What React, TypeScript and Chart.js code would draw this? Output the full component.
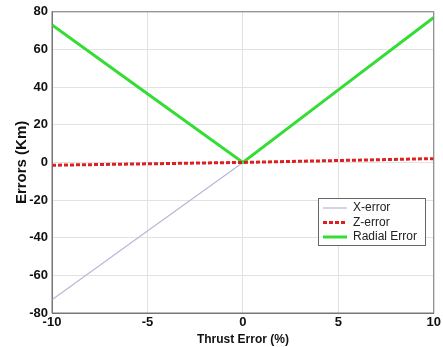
import React, { useEffect, useRef } from "react";
import { Chart, registerables } from "chart.js";

Chart.register(...registerables);

const thrustError = [-10, -5, 0, 5, 10];
const xErrorValues = [-73, -36.5, 0, 38.5, 77];
const zErrorValues = [-1.5, -0.75, 0, 1, 2];
const radialErrorValues = [73, 36.5, 0, 38.5, 77];
const seriesLabels = ["X-error", "Z-error", "Radial Error"];
const xTicks = [-10, -5, 0, 5, 10];
const yTicks = [-80, -60, -40, -20, 0, 20, 40, 60, 80];

const FONT = "'Liberation Sans', Arial, sans-serif";

const legendPlugin = {
  id: "insideLegend",
  afterDraw(chart: any) {
    const ctx = chart.ctx;
    const x0 = 318, y0 = 198, w = 107, h = 47;
    ctx.save();
    ctx.fillStyle = "#ffffff";
    ctx.fillRect(x0, y0, w, h);
    ctx.strokeStyle = "#666666";
    ctx.lineWidth = 1;
    ctx.strokeRect(x0 + 0.5, y0 + 0.5, w, h);
    ctx.font = `12px ${FONT}`;
    ctx.textBaseline = "middle";
    chart.data.datasets.forEach((ds: any, i: number) => {
      const y = y0 + 10 + i * 14.5;
      ctx.beginPath();
      ctx.strokeStyle = ds.borderColor;
      ctx.lineWidth = ds.borderWidth;
      ctx.setLineDash(ds.borderDash || []);
      ctx.moveTo(x0 + 5, y);
      ctx.lineTo(x0 + 29, y);
      ctx.stroke();
      ctx.setLineDash([]);
      ctx.fillStyle = "#222222";
      ctx.fillText(ds.label, x0 + 35, y);
    });
    ctx.restore();
  },
};

export default function App() {
  const ref = useRef<HTMLCanvasElement>(null);
  useEffect(() => {
    document.body.style.margin = "0";
    const toPts = (vals: number[]) => thrustError.map((x, i) => ({ x, y: vals[i] }));
    const chart = new Chart(ref.current!, {
      type: "line",
      data: {
        datasets: [
          {
            label: seriesLabels[0],
            data: toPts(xErrorValues),
            borderColor: "#b8b8d6",
            borderWidth: 1.2,
            pointRadius: 0,
            fill: false,
            order: 2,
          },
          {
            label: seriesLabels[1],
            data: toPts(zErrorValues),
            borderColor: "#dd1f1f",
            borderWidth: 3,
            borderDash: [4, 2],
            pointRadius: 0,
            fill: false,
            order: 0,
          },
          {
            label: seriesLabels[2],
            data: toPts(radialErrorValues),
            borderColor: "#33dd33",
            borderWidth: 3,
            pointRadius: 0,
            fill: false,
            order: 1,
          },
        ],
      },
      options: {
        animation: false,
        responsive: false,
        layout: { padding: { top: 9, right: 7, left: 0, bottom: 0 } },
        plugins: { legend: { display: false }, tooltip: { enabled: false } },
        scales: {
          x: {
            type: "linear",
            min: -10,
            max: 10,
            afterBuildTicks: (s: any) => {
              s.ticks = xTicks.map((v) => ({ value: v }));
            },
            afterFit: (s: any) => {
              s.height = 34;
            },
            grid: { color: "#e2e2e2", drawTicks: false, tickLength: 0 },
            border: { color: "#777777", width: 1 },
            ticks: {
              color: "#111111",
              font: { family: FONT, size: 13, weight: "bold" },
              padding: 2,
              maxRotation: 0,
            },
            title: {
              display: true,
              text: "Thrust Error (%)",
              color: "#111111",
              font: { family: FONT, size: 12, weight: "bold" },
              padding: { top: 0, bottom: 0 },
            },
          },
          y: {
            type: "linear",
            min: -80,
            max: 80,
            afterBuildTicks: (s: any) => {
              s.ticks = yTicks.map((v) => ({ value: v }));
            },
            afterFit: (s: any) => {
              s.width = 52;
            },
            grid: { color: "#e2e2e2", drawTicks: false, tickLength: 0 },
            border: { color: "#777777", width: 1 },
            ticks: {
              color: "#111111",
              font: { family: FONT, size: 13, weight: "bold" },
              padding: 4,
            },
            title: {
              display: true,
              text: "Errors (Km)",
              color: "#111111",
              font: { family: FONT, size: 15, weight: "bold" },
              padding: { top: 13, bottom: 0 },
            },
          },
        },
      },
      plugins: [
        {
          id: "frame",
          afterDraw(chart: any) {
            const { ctx, chartArea: a } = chart;
            ctx.save();
            ctx.strokeStyle = "#777777";
            ctx.lineWidth = 1;
            ctx.strokeRect(a.left, a.top, a.right - a.left, a.bottom - a.top);
            ctx.restore();
          },
        },
        legendPlugin,
      ],
    } as any);
    return () => chart.destroy();
  }, []);
  return (
    <div style={{ position: "absolute", left: 0, top: 0, width: 443, height: 347, background: "#fff" }}>
      <canvas ref={ref} width={443} height={347} style={{ width: 443, height: 347 }} />
    </div>
  );
}
